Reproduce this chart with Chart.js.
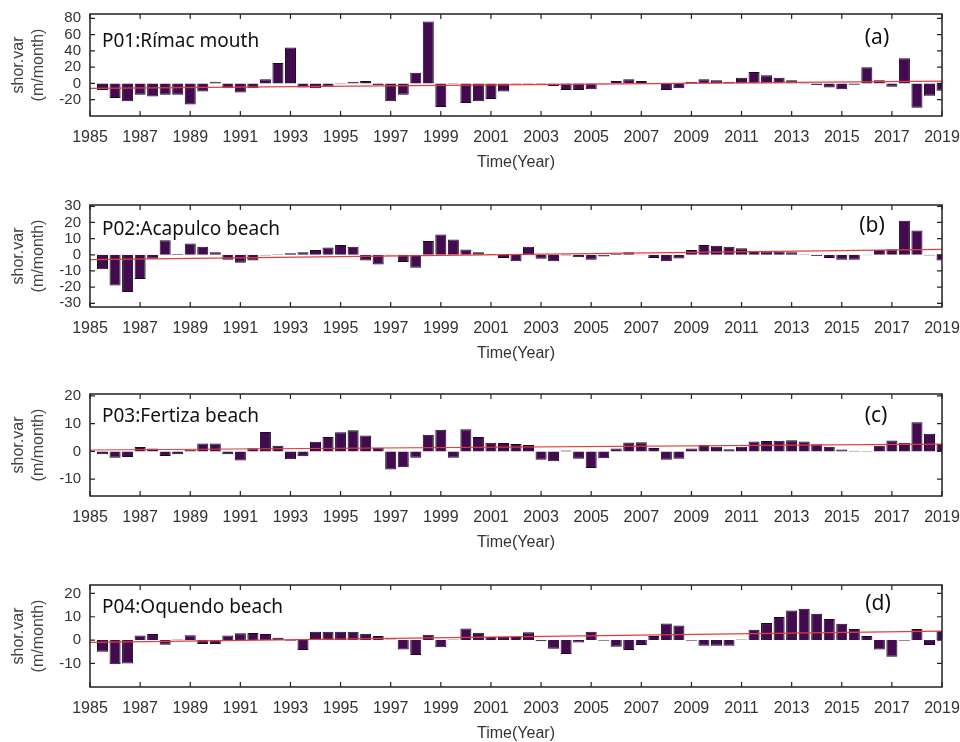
<!DOCTYPE html>
<html>
<head>
<meta charset="utf-8">
<script src="https://cdn.jsdelivr.net/npm/chart.js@4/dist/chart.umd.min.js"></script>
<style>
  html, body { margin: 0; padding: 0; background: #fff; overflow: hidden; }
  #wrap { position: relative; width: 960px; height: 742px; }
  .panel { position: absolute; left: 0; width: 960px; height: 180px; }
</style>
</head>
<body>
<div id="wrap">
  <div class="panel" style="top:0px"><canvas id="c1" width="960" height="180"></canvas></div>
  <div class="panel" style="top:191px"><canvas id="c2" width="960" height="180"></canvas></div>
  <div class="panel" style="top:380px"><canvas id="c3" width="960" height="180"></canvas></div>
  <div class="panel" style="top:571px"><canvas id="c4" width="960" height="180"></canvas></div>
</div>
<script>
// half-year periods (bar centres)
const periods = [
  1985.5, 1986, 1986.5, 1987, 1987.5, 1988, 1988.5, 1989, 1989.5, 1990,
  1990.5, 1991, 1991.5, 1992, 1992.5, 1993, 1993.5, 1994, 1994.5, 1995,
  1995.5, 1996, 1996.5, 1997, 1997.5, 1998, 1998.5, 1999, 1999.5, 2000,
  2000.5, 2001, 2001.5, 2002, 2002.5, 2003, 2003.5, 2004, 2004.5, 2005,
  2005.5, 2006, 2006.5, 2007, 2007.5, 2008, 2008.5, 2009, 2009.5, 2010,
  2010.5, 2011, 2011.5, 2012, 2012.5, 2013, 2013.5, 2014, 2014.5, 2015,
  2015.5, 2016, 2016.5, 2017, 2017.5, 2018, 2018.5, 2019
];
const yearTicks = [1985, 1987, 1989, 1991, 1993, 1995, 1997, 1999, 2001, 2003,
  2005, 2007, 2009, 2011, 2013, 2015, 2017, 2019];

// shoreline variation (m/month)
const p01 = [
  -8, -18, -22, -14, -16, -14, -14, -26, -10, 2,
  -6, -11, -6, 5, 25, 44, -5, -6, -4, -1,
  2, 3, -2, -22, -14, 13, 76, -29, -0.8, -24,
  -22, -19, -10, 0.6, -1, -1, -3, -8, -8, -7,
  -0.6, 3, 5, 3, -1, -8, -6, 2, 5, 4,
  2, 7, 14, 10, 7, 4, 0.6, -2, -5, -7,
  -1.5, 20, 4, -4, 31, -30, -15, -9
];
const p02 = [
  -9, -19, -23, -15, -2.5, 9, 0.5, 7, 5, 1.5,
  -3, -5, -3.5, -0.5, 0.3, 1, 1.5, 3, 4.5, 6,
  5, -3.5, -6, -0.5, -4.5, -8, 8.5, 12.5, 9.5, 3.3,
  1.5, 0.5, -2, -4, 5, -2.5, -4, -0.5, -1.5, -3,
  -1, 0.5, 1.5, -0.3, -2, -4, -2.3, 3, 6, 5.6,
  5, 4, 2.3, 2, 2, 1.5, 0.3, -0.8, -2, -3,
  -3, -0.3, 3, 3.5, 21, 15, -0.5, -3.5
];
const p03 = [
  -1, -2.3, -2, 1.6, 1, -1.7, -1, 0.6, 2.8, 2.8,
  -1, -3.3, 1.1, 7, 2, -2.8, -1.8, 3.5, 5.2, 6.9,
  7.6, 5.7, 1.3, -6.5, -5.7, -2.3, 6, 7.8, -2.3, 8,
  5.2, 3.1, 3, 2.7, 2.3, -3, -3.6, 0.3, -2.7, -6,
  -2.5, 1, 3.2, 3.3, 1.2, -3, -2.7, 1, 2.4, 1.7,
  0.8, 1.7, 3.6, 3.7, 3.8, 4, 3.6, 2.6, 1.7, 0.7,
  0.2, 0.1, 2, 3.9, 3.1, 10.5, 6.4, 2.7
];
const p04 = [
  -5, -10.3, -10, 2, 2.6, -2, 0.2, 2.1, -1.7, -1.7,
  2, 2.9, 3, 2.6, 1, -0.3, -4.3, 3.6, 3.6, 3.6,
  3.6, 2.7, 1.7, 0.3, -4, -6.4, 2.3, -3.1, 0.2, 5,
  3.1, 1.3, 1.3, 1.3, 3.4, -0.5, -3.7, -6, -1, 3.6,
  -0.3, -2.9, -4.3, -2.1, 1.7, 7.1, 6.3, -0.3, -2.4, -2.4,
  -2.4, 0.2, 4.4, 7.3, 9.9, 12.7, 13.4, 11.3, 9, 7,
  4.7, 1.7, -4, -7.1, -0.3, 4.7, -2.1, 4
];

// linear trend end points
const trendYears = [1985, 2019];
const trend01 = [-6, 2.8];
const trend02 = [-3, 3.4];
const trend03 = [0.5, 2.6];
const trend04 = [-1, 3.8];

// y ticks per panel
const yTicks01 = [-20, 0, 20, 40, 60, 80];
const yTicks02 = [-30, -20, -10, 0, 10, 20, 30];
const yTicks03 = [-10, 0, 10, 20];
const yTicks04 = [-10, 0, 10, 20];

const axisFont = '"Liberation Sans", Arial, sans-serif';

// box, inward ticks and panel texts
const framePlugin = {
  id: 'frame',
  afterDatasetsDraw(chart, args, opts) {
    const { ctx, chartArea: a, scales: { x, y } } = chart;
    ctx.save();
    ctx.strokeStyle = '#222';
    ctx.lineWidth = 1.5;
    ctx.strokeRect(a.left, a.top, a.right - a.left, a.bottom - a.top);
    ctx.lineWidth = 1.2;
    ctx.beginPath();
    x.ticks.forEach(t => {
      const px = x.getPixelForValue(t.value);
      ctx.moveTo(px, a.bottom); ctx.lineTo(px, a.bottom - 5);
      ctx.moveTo(px, a.top); ctx.lineTo(px, a.top + 5);
    });
    y.ticks.forEach(t => {
      const py = y.getPixelForValue(t.value);
      ctx.moveTo(a.left, py); ctx.lineTo(a.left + 5, py);
      ctx.moveTo(a.right, py); ctx.lineTo(a.right - 5, py);
    });
    ctx.stroke();

    ctx.fillStyle = '#111';
    ctx.textBaseline = 'alphabetic';
    ctx.font = '19px "Noto Sans"';
    ctx.textAlign = 'left';
    ctx.fillText(opts.name, a.left + 12, a.top + opts.nameDy);
    ctx.font = '21px "Noto Sans"';
    ctx.textAlign = 'center';
    ctx.fillText(opts.tag, opts.tagX, a.top + opts.tagDy);
    ctx.restore();
  }
};

function makePanel(id, values, trend, yMin, yMax, yTicks, name, tag, nameDy, tagX, tagDy) {
  new Chart(document.getElementById(id), {
    type: 'bar',
    data: {
      datasets: [
        {
          type: 'line',
          data: trendYears.map((t, i) => ({ x: t, y: trend[i] })),
          borderColor: '#e0413b',
          borderWidth: 1.2,
          pointRadius: 0,
          clip: 0,
          order: 1
        },
        {
          type: 'bar',
          data: periods.map((p, i) => ({ x: p, y: values[i] })),
          backgroundColor: '#420b50',
          borderColor: '#1c0621',
          borderWidth: 1,
          barPercentage: 0.88,
          categoryPercentage: 1,
          clip: 0,
          order: 2
        }
      ]
    },
    options: {
      responsive: false,
      animation: false,
      events: [],
      layout: { padding: { top: 14, right: 18, bottom: 0, left: 0 } },
      plugins: {
        legend: { display: false },
        tooltip: { enabled: false },
        frame: { name, tag, nameDy, tagX, tagDy }
      },
      scales: {
        x: {
          type: 'linear',
          min: 1985,
          max: 2019,
          offset: false,
          grid: { display: false, drawTicks: false },
          border: { display: false },
          afterBuildTicks: s => { s.ticks = yearTicks.map(v => ({ value: v })); },
          afterFit: s => { s.height = 64; s.paddingLeft = 0; s.paddingRight = 0; },
          ticks: {
            padding: 12,
            color: '#333',
            maxRotation: 0,
            autoSkip: false,
            font: { family: axisFont, size: 16 },
            callback: v => String(v)
          },
          title: {
            display: true,
            text: 'Time(Year)',
            color: '#333',
            font: { family: axisFont, size: 16 },
            padding: { top: 0, bottom: 8 }
          }
        },
        y: {
          min: yMin,
          max: yMax,
          grid: { display: false, drawTicks: false },
          border: { display: false },
          afterBuildTicks: s => { s.ticks = yTicks.map(v => ({ value: v })); },
          afterFit: s => { s.width = 90; s.paddingTop = 0; s.paddingBottom = 0; },
          ticks: {
            padding: 9,
            color: '#333',
            autoSkip: false,
            font: { family: axisFont, size: 15 },
            callback: v => String(v)
          },
          title: {
            display: true,
            text: ['shor.var', '(m/month)'],
            color: '#444',
            font: { family: axisFont, size: 16, lineHeight: 1.25 },
            padding: { top: 9, bottom: 0 }
          }
        }
      }
    },
    plugins: [framePlugin]
  });
}

makePanel('c1', p01, trend01, -40, 85.3, yTicks01, 'P01:Rímac mouth', '(a)', 33, 877, 30);
makePanel('c2', p02, trend02, -32.3, 30.8, yTicks02, 'P02:Acapulco beach', '(b)', 30, 872, 27);
makePanel('c3', p03, trend03, -16.1, 20.7, yTicks03, 'P03:Fertiza beach', '(c)', 28, 876, 28);
makePanel('c4', p04, trend04, -20.1, 23.6, yTicks04, 'P04:Oquendo beach', '(d)', 28, 878, 25);
</script>
</body>
</html>
